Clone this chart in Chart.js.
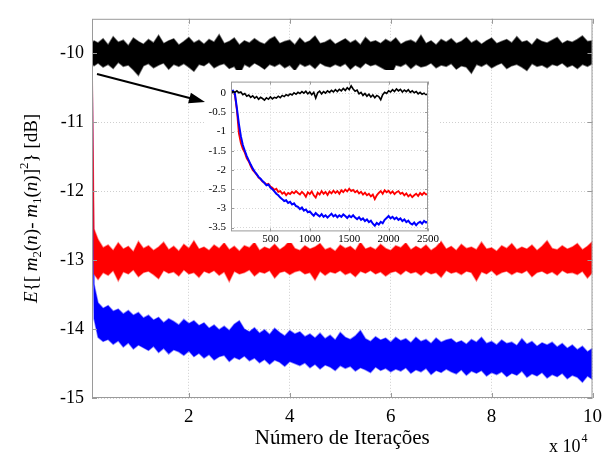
<!DOCTYPE html>
<html>
<head>
<meta charset="utf-8">
<script src="https://cdn.jsdelivr.net/npm/chart.js@4.4.1/dist/chart.umd.min.js"></script>
<style>
  html, body { margin: 0; padding: 0; background: #fff; }
  #wrap { position: relative; width: 610px; height: 455px; }
  #main { position: absolute; left: 0; top: 0; }
  #inset { position: absolute; left: 205px; top: 70px; background: #fff; }
</style>
</head>
<body>
<div id="wrap">
  <canvas id="main" width="610" height="455"></canvas>
  <canvas id="inset" width="235" height="173"></canvas>
</div>
<script>
// ticks
const xTicks = [2, 4, 6, 8, 10];
const yTicks = [-15, -14, -13, -12, -11, -10];
const insetXTicks = [500, 1000, 1500, 2000, 2500];
const insetYTicks = [-3.5, -3, -2.5, -2, -1.5, -1, -0.5, 0];

// main plot: iterations in units of 10^4 (two early samples, then every 0.1)
const headX = [0.08, 0.12];
const gridStart = 0.2, gridStep = 0.1, gridCount = 99;

// upper / lower edge of each noisy band [dB]
const blackUpper = [
  -9.86, -9.82, -9.85, -9.79, -9.88, -9.76, -9.84, -9.81, -9.89, -9.78,
  -9.83, -9.87, -9.80, -9.85, -9.74, -9.86, -9.82, -9.79, -9.88, -9.83,
  -9.77, -9.85, -9.81, -9.87, -9.80, -9.84, -9.73, -9.86, -9.83, -9.78,
  -9.88, -9.82, -9.85, -9.79, -9.84, -9.87, -9.80, -9.76, -9.86, -9.83,
  -9.81, -9.88, -9.78, -9.85, -9.82, -9.75, -9.86, -9.84, -9.80, -9.87,
  -9.83, -9.79, -9.85, -9.81, -9.88, -9.77, -9.84, -9.82, -9.86, -9.80,
  -9.84, -9.78, -9.87, -9.83, -9.81, -9.85, -9.74, -9.86, -9.82, -9.88,
  -9.80, -9.84, -9.79, -9.86, -9.83, -9.77, -9.85, -9.81, -9.87, -9.82,
  -9.78, -9.86, -9.83, -9.80, -9.85, -9.76, -9.84, -9.82, -9.88, -9.79,
  -9.83, -9.85, -9.81, -9.77, -9.86, -9.82, -9.84, -9.80, -9.75, -9.83,
  -9.82
];
const blackLower = [
  -10.15, -10.18, -10.14, -10.20, -10.16, -10.22, -10.13, -10.19, -10.17, -10.24,
  -10.32, -10.18, -10.15, -10.21, -10.17, -10.14, -10.23, -10.16, -10.19, -10.15,
  -10.20, -10.26, -10.16, -10.18, -10.13, -10.21, -10.17, -10.15, -10.22, -10.19,
  -10.31, -10.16, -10.20, -10.14, -10.18, -10.23, -10.16, -10.19, -10.15, -10.21,
  -10.17, -10.25, -10.15, -10.19, -10.16, -10.22, -10.14, -10.18, -10.20, -10.16,
  -10.19, -10.15, -10.23, -10.17, -10.21, -10.14, -10.18, -10.16, -10.20, -10.24,
  -10.33, -10.17, -10.19, -10.15, -10.22, -10.16, -10.20, -10.18, -10.14, -10.21,
  -10.17, -10.19, -10.15, -10.23, -10.18, -10.20, -10.29, -10.16, -10.19, -10.15,
  -10.21, -10.17, -10.14, -10.22, -10.18, -10.16, -10.20, -10.25, -10.15, -10.19,
  -10.17, -10.21, -10.16, -10.18, -10.14, -10.20, -10.17, -10.22, -10.16, -10.19,
  -10.15
];
const redUpper = [
  -10.05, -12.55,
  -12.70, -12.82, -12.78, -12.86, -12.75, -12.84, -12.80, -12.88, -12.73, -12.83,
  -12.79, -12.86, -12.81, -12.74, -12.85, -12.80, -12.87, -12.77, -12.83, -12.72,
  -12.84, -12.81, -12.86, -12.78, -12.83, -12.75, -12.85, -12.80, -12.87, -12.79,
  -12.82, -12.74, -12.86, -12.81, -12.84, -12.77, -12.85, -12.80, -12.72, -12.83,
  -12.86, -12.79, -12.84, -12.81, -12.76, -12.85, -12.82, -12.87, -12.78, -12.83,
  -12.80, -12.86, -12.74, -12.84, -12.81, -12.85, -12.77, -12.83, -12.86, -12.79,
  -12.82, -12.75, -12.85, -12.80, -12.84, -12.78, -12.86, -12.81, -12.73, -12.84,
  -12.80, -12.86, -12.77, -12.83, -12.81, -12.85, -12.74, -12.84, -12.82, -12.87,
  -12.79, -12.83, -12.76, -12.85, -12.81, -12.84, -12.78, -12.86, -12.80, -12.72,
  -12.83, -12.85, -12.79, -12.84, -12.81, -12.76, -12.85, -12.80, -12.73
];
const redLower = [
  -10.10, -13.20,
  -13.28, -13.18, -13.22, -13.15, -13.30, -13.17, -13.20, -13.14, -13.24, -13.18,
  -13.16, -13.21, -13.27, -13.15, -13.19, -13.17, -13.23, -13.14, -13.20, -13.18,
  -13.25, -13.16, -13.19, -13.15, -13.22, -13.17, -13.31, -13.16, -13.20, -13.18,
  -13.14, -13.23, -13.17, -13.19, -13.15, -13.26, -13.18, -13.16, -13.21, -13.17,
  -13.15, -13.20, -13.18, -13.29, -13.16, -13.22, -13.17, -13.19, -13.15, -13.21,
  -13.18, -13.24, -13.16, -13.19, -13.15, -13.20, -13.17, -13.23, -13.18, -13.16,
  -13.21, -13.15, -13.19, -13.17, -13.22, -13.16, -13.20, -13.18, -13.25, -13.15,
  -13.19, -13.17, -13.21, -13.16, -13.18, -13.30, -13.17, -13.20, -13.15, -13.22,
  -13.18, -13.16, -13.21, -13.17, -13.19, -13.15, -13.24, -13.18, -13.16, -13.20,
  -13.17, -13.22, -13.15, -13.19, -13.18, -13.21, -13.16, -13.26, -13.18
];
const blueUpper = [
  -10.00, -13.35,
  -13.62, -13.70, -13.66, -13.74, -13.71, -13.78, -13.73, -13.80, -13.76, -13.84,
  -13.80, -13.87, -13.83, -13.91, -13.85, -13.89, -13.94, -13.86, -13.92, -13.88,
  -13.95, -13.91, -13.99, -13.94, -14.01, -13.96, -14.02, -13.93, -13.88, -14.00,
  -14.04, -13.98, -14.06, -14.01, -14.08, -13.99, -14.05, -14.10, -14.02, -14.07,
  -14.04, -14.11, -14.07, -14.13, -14.06, -14.14, -14.09, -14.16, -14.05, -14.12,
  -14.15, -14.10, -14.02, -14.14, -14.18, -14.11, -14.16, -14.13, -14.19, -14.12,
  -14.17, -14.14, -14.20, -14.12, -14.18, -14.15, -14.21, -14.13, -14.19, -14.16,
  -14.14, -14.20, -14.17, -14.22, -14.15, -14.19, -14.12, -14.21, -14.18, -14.23,
  -14.16, -14.21, -14.19, -14.24, -14.14, -14.22, -14.18, -14.25, -14.20, -14.23,
  -14.19, -14.26, -14.21, -14.28, -14.23, -14.30, -14.25, -14.33, -14.28
];
const blueLower = [
  -10.10, -13.85,
  -14.12, -14.18, -14.15, -14.22, -14.17, -14.26, -14.20, -14.29, -14.23, -14.27,
  -14.31, -14.25, -14.34, -14.28, -14.36, -14.30, -14.33, -14.38, -14.32, -14.40,
  -14.35, -14.42, -14.37, -14.45, -14.40, -14.38, -14.47, -14.41, -14.44, -14.39,
  -14.46, -14.42, -14.49, -14.44, -14.51, -14.45, -14.48, -14.54, -14.47, -14.50,
  -14.53, -14.49, -14.56, -14.51, -14.58, -14.52, -14.55, -14.60, -14.53, -14.57,
  -14.54, -14.61, -14.56, -14.59, -14.63, -14.55, -14.60, -14.57, -14.62, -14.58,
  -14.61, -14.56, -14.64, -14.59, -14.62, -14.57, -14.66, -14.60, -14.63, -14.58,
  -14.62, -14.65, -14.59, -14.67, -14.61, -14.64, -14.60, -14.68, -14.63, -14.66,
  -14.62, -14.69, -14.64, -14.67, -14.61, -14.70, -14.65, -14.68, -14.63, -14.71,
  -14.66, -14.69, -14.64, -14.72, -14.67, -14.70, -14.77, -14.68, -14.73
];

// inset: first 2500 iterations, one sample every 25
const insetStep = 25;
const insetBlack = [
  0.00, 0.04, 0.02, 0.06, 0.01, 0.03, -0.04, -0.01, -0.08, -0.05,
  -0.11, -0.07, -0.13, -0.09, -0.16, -0.11, -0.14, -0.18, -0.12, -0.16,
  -0.10, -0.15, -0.11, -0.13, -0.08, -0.12, -0.06, -0.09, -0.04, -0.07,
  -0.02, -0.05, 0.01, -0.03, 0.02, -0.01, 0.04, 0.00, 0.05, -0.02,
  0.03, -0.04, 0.02, -0.13, 0.01, 0.05, -0.02, 0.04, 0.00, 0.06,
  0.02, 0.07, 0.03, 0.09, 0.04, 0.10, 0.06, 0.12, 0.07, 0.14,
  0.09, 0.19, 0.11, 0.05, 0.08, -0.02, 0.02, -0.06, -0.01, -0.08,
  -0.03, -0.10, -0.05, -0.12, -0.06, -0.09, -0.17, -0.04, 0.02, -0.01,
  0.06, 0.03, 0.09, 0.04, 0.11, 0.06, 0.10, 0.03, 0.08, 0.04,
  0.09, 0.02, 0.06, 0.01, 0.04, -0.02, 0.02, -0.03, 0.00, -0.04,
  -0.02
];
const insetRed = [
  0.00, 0.03, -0.05, -0.45, -1.05, -1.30, -1.45, -1.55, -1.70, -1.78,
  -1.90, -2.00, -2.06, -2.12, -2.20, -2.24, -2.30, -2.33, -2.38, -2.36,
  -2.43, -2.46, -2.52, -2.49, -2.57, -2.55, -2.62, -2.58, -2.66, -2.60,
  -2.63, -2.57, -2.61, -2.55, -2.60, -2.64, -2.57, -2.62, -2.70, -2.58,
  -2.63, -2.56, -2.66, -2.72, -2.59, -2.64, -2.55, -2.62, -2.57, -2.65,
  -2.56, -2.61, -2.54, -2.60, -2.55, -2.62, -2.53, -2.58, -2.51, -2.56,
  -2.49, -2.55, -2.52, -2.58, -2.54, -2.61, -2.57, -2.64, -2.59, -2.66,
  -2.62, -2.69, -2.64, -2.76, -2.66, -2.60, -2.55, -2.62, -2.53, -2.58,
  -2.54, -2.61, -2.56, -2.63, -2.58, -2.55, -2.62, -2.59, -2.66, -2.61,
  -2.69, -2.64, -2.71, -2.66, -2.62, -2.68, -2.60, -2.65, -2.59, -2.64,
  -2.62
];
const insetBlue = [
  0.02, 0.06, -0.02, -0.40, -0.80, -1.12, -1.35, -1.50, -1.64, -1.75,
  -1.86, -1.96, -2.04, -2.11, -2.18, -2.23, -2.29, -2.34, -2.40, -2.38,
  -2.46, -2.50, -2.56, -2.62, -2.66, -2.72, -2.76, -2.81, -2.79, -2.86,
  -2.83, -2.90, -2.87, -2.94, -2.96, -3.02, -2.98, -3.06, -3.03, -3.10,
  -3.08, -3.14, -3.19, -3.12, -3.17, -3.21, -3.15, -3.22, -3.18, -3.24,
  -3.19, -3.14, -3.21, -3.17, -3.23, -3.18, -3.22, -3.16, -3.20, -3.25,
  -3.19, -3.23, -3.18, -3.24, -3.28, -3.23, -3.30, -3.26, -3.33, -3.29,
  -3.36, -3.32, -3.40, -3.45, -3.38, -3.42, -3.35, -3.39, -3.30, -3.25,
  -3.20, -3.26, -3.22, -3.28, -3.24, -3.30, -3.26, -3.33, -3.29, -3.36,
  -3.32, -3.39, -3.42, -3.37, -3.44, -3.38, -3.35, -3.40, -3.33, -3.37,
  -3.34
];

const SERIF = "'Liberation Serif', 'Times New Roman', serif";
Chart.defaults.font.family = SERIF;
Chart.defaults.color = '#000';

const mainX = headX.slice();
for (let i = 0; i < gridCount; i++) mainX.push(+(gridStart + gridStep * i).toFixed(2));
const pts = arr => arr.map((y, i) => ({ x: mainX[i], y }));
const insetPts = arr => arr.map((y, i) => ({ x: i * insetStep, y }));

// gray box round the plot with short inward ticks (matlab style)
const frame = {
  id: 'frame',
  afterDraw(chart, args, opts) {
    const { ctx, chartArea: a, scales } = chart;
    const t = opts.tick || 5;
    ctx.save();
    ctx.strokeStyle = '#9a9a9a';
    ctx.lineWidth = 1;
    ctx.strokeRect(a.left + 0.5, a.top + 0.5, a.right - a.left - 1, a.bottom - a.top - 1);
    ctx.beginPath();
    scales.x.ticks.forEach(tk => {
      const p = Math.round(scales.x.getPixelForValue(tk.value)) + 0.5;
      ctx.moveTo(p, a.bottom); ctx.lineTo(p, a.bottom - t);
      ctx.moveTo(p, a.top); ctx.lineTo(p, a.top + t);
    });
    scales.y.ticks.forEach(tk => {
      const p = Math.round(scales.y.getPixelForValue(tk.value)) + 0.5;
      ctx.moveTo(a.left, p); ctx.lineTo(a.left + t, p);
      ctx.moveTo(a.right, p); ctx.lineTo(a.right - t, p);
    });
    ctx.stroke();
    ctx.restore();
  }
};

const yTitleParts = [
  ['E', 'i'], ['{[ ', ''], ['m', 'i'], ['2', 'sub'], ['(', ''], ['n', 'i'], [')- ', ''],
  ['m', 'i'], ['1', 'sub'], ['(', ''], ['n', 'i'], [')]', ''], ['2', 'sup'], ['} [dB]', '']
];

const labels = {
  id: 'labels',
  afterDraw(chart) {
    const { ctx, chartArea: a } = chart;
    ctx.save();
    ctx.fillStyle = '#000';
    // x title
    ctx.font = '21px ' + SERIF;
    ctx.textAlign = 'center';
    ctx.textBaseline = 'alphabetic';
    ctx.fillText('Número de Iterações', (a.left + a.right) / 2, 444);
    // x 10^4
    ctx.textAlign = 'left';
    ctx.font = '18px ' + SERIF;
    ctx.fillText('x 10', 549, 452);
    const w = ctx.measureText('x 10').width;
    ctx.font = '12px ' + SERIF;
    ctx.fillText('4', 549 + w + 1, 442);

    // y title, rotated, with sub/superscripts
    const fontOf = k => (k === 'i' ? 'italic ' : '') + (k === 'sub' || k === 'sup' ? '13px ' : '19px ') + SERIF;
    let total = 0;
    yTitleParts.forEach(([s, k]) => { ctx.font = fontOf(k); total += ctx.measureText(s).width; });
    ctx.translate(37, (a.top + a.bottom) / 2);
    ctx.rotate(-Math.PI / 2);
    let cx = -total / 2;
    yTitleParts.forEach(([s, k]) => {
      ctx.font = fontOf(k);
      const dy = k === 'sub' ? 4 : k === 'sup' ? -9 : 0;
      ctx.fillText(s, cx, dy);
      cx += ctx.measureText(s).width;
    });
    ctx.restore();

    // arrow pointing to the zoomed view
    ctx.save();
    const x0 = 97, y0 = 74, x1 = 205, y1 = 102;
    const ang = Math.atan2(y1 - y0, x1 - x0);
    ctx.strokeStyle = '#000';
    ctx.fillStyle = '#000';
    ctx.lineWidth = 2;
    ctx.beginPath();
    ctx.moveTo(x0, y0);
    ctx.lineTo(x1 - 12 * Math.cos(ang), y1 - 12 * Math.sin(ang));
    ctx.stroke();
    ctx.beginPath();
    ctx.moveTo(x1, y1);
    ctx.lineTo(x1 - 16 * Math.cos(ang) + 5.5 * Math.sin(ang), y1 - 16 * Math.sin(ang) - 5.5 * Math.cos(ang));
    ctx.lineTo(x1 - 16 * Math.cos(ang) - 5.5 * Math.sin(ang), y1 - 16 * Math.sin(ang) + 5.5 * Math.cos(ang));
    ctx.closePath();
    ctx.fill();
    ctx.restore();
  }
};

const band = (data, color, edge, fill) => ({
  data, borderColor: edge, borderWidth: 1.5, pointRadius: 0, tension: 0,
  backgroundColor: color, fill: fill ? '-1' : false
});

new Chart(document.getElementById('main'), {
  type: 'line',
  data: {
    datasets: [
      band(pts(blackUpper), '#000', 'rgba(0,0,0,0.55)', false),
      band(pts(blackLower), '#000', 'rgba(0,0,0,0.55)', true),
      band(pts(redUpper), '#ff0000', 'rgba(255,0,0,0.45)', false),
      band(pts(redLower), '#ff0000', 'rgba(255,0,0,0.45)', true),
      band(pts(blueUpper), '#0000ff', 'rgba(0,0,255,0.45)', false),
      band(pts(blueLower), '#0000ff', 'rgba(0,0,255,0.45)', true)
    ]
  },
  options: {
    responsive: false,
    animation: false,
    devicePixelRatio: 1,
    layout: { padding: { top: 10, right: 15, left: 0, bottom: 0 } },
    plugins: { legend: { display: false }, tooltip: { enabled: false }, frame: { tick: 5 } },
    scales: {
      x: {
        type: 'linear', min: 0.08, max: 10,
        afterBuildTicks: s => { s.ticks = xTicks.map(v => ({ value: v })); },
        afterFit: s => { s.height = 57; },
        ticks: { font: { size: 19 }, padding: 8, maxRotation: 0, callback: v => String(v) },
        grid: { color: '#cfcfcf', drawTicks: false },
        border: { display: false, dash: [1, 2] }
      },
      y: {
        min: -15, max: -9.5,
        afterBuildTicks: s => { s.ticks = yTicks.map(v => ({ value: v })); },
        afterFit: s => { s.width = 92; },
        ticks: { font: { size: 18 }, padding: 8, callback: v => String(v) },
        grid: { color: '#cfcfcf', drawTicks: false },
        border: { display: false, dash: [1, 2] }
      }
    }
  },
  plugins: [frame, labels]
});

const line = (data, color, width) => ({
  data, borderColor: color, borderWidth: width, pointRadius: 0, tension: 0, fill: false
});

new Chart(document.getElementById('inset'), {
  type: 'line',
  data: {
    datasets: [
      line(insetPts(insetBlack), '#000', 1.6),
      line(insetPts(insetBlue), '#0000ff', 2),
      line(insetPts(insetRed), '#ff0000', 1.8)
    ]
  },
  options: {
    responsive: false,
    animation: false,
    devicePixelRatio: 1,
    layout: { padding: { top: 2, right: 8, left: 0, bottom: 0 } },
    plugins: { legend: { display: false }, tooltip: { enabled: false }, frame: { tick: 3 } },
    scales: {
      x: {
        type: 'linear', min: 0, max: 2500,
        afterBuildTicks: s => { s.ticks = insetXTicks.map(v => ({ value: v })); },
        afterFit: s => { s.height = 11; },
        ticks: { font: { size: 11 }, padding: 1, maxRotation: 0, callback: v => String(v) },
        grid: { color: '#d6d6d6', drawTicks: false },
        border: { display: false, dash: [1, 2] }
      },
      y: {
        min: -3.6, max: 0.3,
        afterBuildTicks: s => { s.ticks = insetYTicks.map(v => ({ value: v })); },
        afterFit: s => { s.width = 26; },
        ticks: { font: { size: 11 }, padding: 5, callback: v => String(v) },
        grid: { color: '#d6d6d6', drawTicks: false },
        border: { display: false, dash: [1, 2] }
      }
    }
  },
  plugins: [frame]
});
</script>
</body>
</html>
